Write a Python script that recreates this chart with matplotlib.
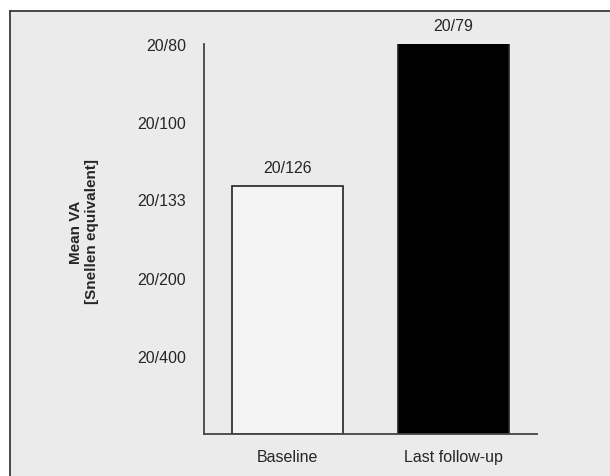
import matplotlib
matplotlib.use("Agg")
import matplotlib.pyplot as plt
from matplotlib.lines import Line2D
from matplotlib.patches import Rectangle

categories = ["Baseline", "Last follow-up"]
snellen_denoms = [126, 79]            # mean VA, Snellen 20/x
bar_labels = ["20/126", "20/79"]
tick_denoms = [400, 200, 133, 100, 80]
tick_labels = ["20/400", "20/200", "20/133", "20/100", "20/80"]

values = [20 / d for d in snellen_denoms]       # decimal acuity
tick_vals = [20 / d for d in tick_denoms]

plt.rcParams['font.family'] = ['Liberation Sans', 'DejaVu Sans']
txt = '#262626'

fig = plt.figure(figsize=(6.1, 4.77), dpi=100)
fig.patch.set_facecolor('white')
W, H = 610, 477
fig.add_artist(Rectangle((9.5 / W, 0), 1 - 9.5 / W, 1 - 11.5 / H,
                         transform=fig.transFigure, facecolor='#ebebeb',
                         edgecolor='none', zorder=-10))
fig.add_artist(Line2D([9.5 / W, 1], [1 - 11.5 / H, 1 - 11.5 / H],
                      transform=fig.transFigure, color='#3a3a3a', lw=1.3))
fig.add_artist(Line2D([9.5 / W, 9.5 / W], [0, 1 - 11.5 / H],
                      transform=fig.transFigure, color='#3a3a3a', lw=1.3))

ax = fig.add_axes([204 / W, 1 - 435 / H, (537 - 204) / W, (435 - 45) / H])
ax.set_facecolor('none')

x = list(range(len(categories)))
bars = ax.bar(x, values, width=0.67, color=['#f4f4f4', 'black'],
              edgecolor='#222222', linewidth=1.2)
ax.set_xlim(-0.505, 1.507)
ax.set_ylim(0, 0.25)

for xi, v, lab in zip(x, values, bar_labels):
    ax.annotate(lab, (xi, min(v, 0.25)), xytext=(0, 8), textcoords='offset points',
                ha='center', va='bottom', fontsize=11.5, color=txt,
                annotation_clip=False)

ax.set_yticks(tick_vals)
ax.set_yticklabels(tick_labels)
ax.set_xticks(x)
ax.set_xticklabels(categories)
ax.tick_params(axis='y', length=0, pad=13, labelsize=11.5, labelcolor=txt)
ax.tick_params(axis='x', length=0, pad=11, labelsize=11.5, labelcolor=txt)

for s in ['top', 'right']:
    ax.spines[s].set_visible(False)
for s in ['left', 'bottom']:
    ax.spines[s].set_color('#444444')
    ax.spines[s].set_linewidth(1.3)

fig.text(84 / W, 1 - 232 / H, "Mean VA\n[Snellen equivalent]", rotation=90,
         ha='center', va='center', fontsize=11, fontweight='bold',
         color=txt, linespacing=1.1, multialignment='center')

fig.savefig("out.png", dpi=100)
